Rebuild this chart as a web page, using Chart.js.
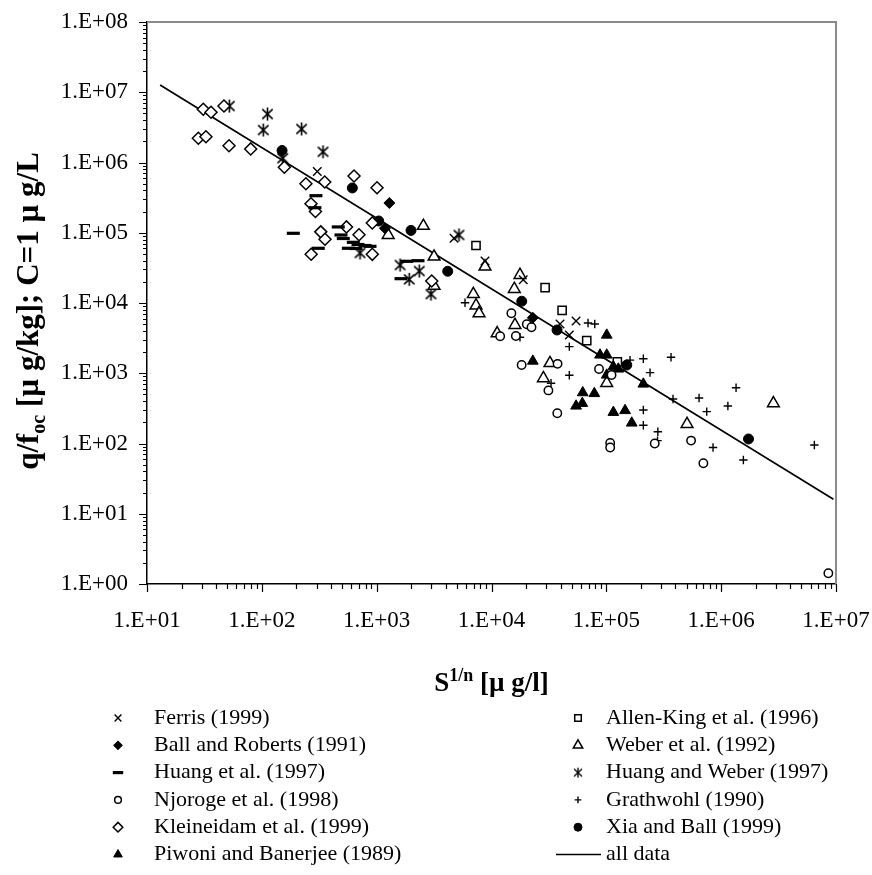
<!DOCTYPE html>
<html>
<head>
<meta charset="utf-8">
<script src="https://cdn.jsdelivr.net/npm/chart.js@4.4.1/dist/chart.umd.min.js"></script>
<style>
  html, body { margin: 0; padding: 0; background: #fff; }
  #wrap { width: 872px; height: 875px; position: relative; }
</style>
</head>
<body>
<div id="wrap"><canvas id="chart"></canvas></div>
<script>
/* ---------- data: S^1/n [ug/l] vs q/foc [ug/kg] ---------- */
const ferrisS = [304, 4720, 8780, 18900, 39500, 54500, 47600];
const ferrisQ = [7.45e5, 8.34e4, 3.96e4, 2.14e4, 5.02e3, 5.54e3, 3.50e3];

const ballS = [1290, 1180, 22900];
const ballQ = [2.65e5, 1.16e5, 6.16e3];

const huangS = [296, 290, 188, 310, 463, 489, 512, 626, 688, 792, 875, 567, 661, 1830, 2290, 1630];
const huangQ = [3.37e5, 2.27e5, 9.82e4, 6.01e4, 1.21e5, 9.29e4, 8.28e4, 7.31e4, 6.80e4, 6.58e4, 6.41e4, 6.01e4, 5.97e4, 3.92e4, 4.00e4, 2.22e4];

const njorogeS = [14900, 20300, 22300, 11900, 16300, 18300, 37600, 31300, 37400, 86400, 111000, 108000, 108000, 264000, 547000, 700000, 8.58e6];
const njorogeQ = [7.13e3, 4.99e3, 4.51e3, 3.36e3, 3.39e3, 1.31e3, 1.36e3, 570, 269, 1.15e3, 944, 102, 87.7, 100, 110, 52.3, 1.42];

const kleineidamS = [30.9, 36.1, 46.8, 28.0, 32.6, 51.8, 80.0, 157, 242, 353, 635, 1007, 916, 268, 293, 326, 355, 546, 702, 269, 916, 3017];
const kleineidamQ = [5.72e6, 5.19e6, 6.37e6, 2.21e6, 2.33e6, 1.73e6, 1.56e6, 8.55e5, 4.99e5, 5.28e5, 6.42e5, 4.38e5, 1.38e5, 2.59e5, 2.01e5, 1.03e5, 8.07e4, 1.21e5, 9.38e4, 4.95e4, 4.93e4, 2.06e4];

const piwoniS = [100800, 88100, 100800, 22900, 115100, 127200, 100800, 210000, 62300, 78600, 54500, 61800, 115100, 145600, 166400];
const piwoniQ = [3.50e3, 1.82e3, 1.82e3, 1.49e3, 1.24e3, 1.15e3, 944, 703, 529, 515, 342, 373, 278, 295, 196];

const allenKingS = [7330, 29300, 41200, 67500, 124700];
const allenKingQ = [6.58e4, 1.65e4, 7.87e3, 2.91e3, 1.45e3];

const weberS = [2550, 1260, 3160, 3160, 6950, 7330, 7790, 8780, 17700, 15800, 16000, 11200, 32300, 28300, 100800, 504700, 2.85e6];
const weberQ = [1.25e5, 9.29e4, 4.56e4, 1.75e4, 1.34e4, 9.21e3, 7.13e3, 3.29e4, 2.50e4, 1.58e4, 4.86e3, 3.70e3, 1.39e3, 848, 726, 189, 373];

const huangWeberS = [52.1, 112, 103, 222, 341, 152, 716, 1600, 2350, 1920, 2970, 5210];
const huangWeberQ = [6.37e6, 4.90e6, 2.90e6, 3.00e6, 1.42e6, 1.15e6, 5.15e4, 3.47e4, 2.85e4, 2.17e4, 1.34e4, 9.29e4];

const grathwohlS = [5880, 17700, 69300, 79300, 47600, 47600, 33000, 160800, 210000, 365900, 240200, 380900, 641900, 748800, 1.144e6, 1.348e6, 210000, 210000, 280900, 279200, 849800, 1.561e6, 6.48e6];
const grathwohlQ = [1.01e4, 3.25e3, 5.19e3, 5.02e3, 2.39e3, 935, 719, 1.54e3, 1.61e3, 1.69e3, 1.02e3, 430, 444, 284, 342, 623, 300, 182, 147, 110, 87.7, 58.2, 95.2];

const xiaS = [150, 614, 1042, 1991, 4157, 18340, 37220, 150600, 1.73e6];
const xiaQ = [1.48e6, 4.34e5, 1.47e5, 1.08e5, 2.83e4, 1.06e4, 4.13e3, 1.31e3, 116];

// regression line "all data"
const allDataS = [13, 9.5e6];
const allDataQ = [1.27e7, 16.1];

// axis decades (tick labels are 1.E+xx) and minor tick steps
const xTickExps = [1, 2, 3, 4, 5, 6, 7];
const yTickExps = [0, 1, 2, 3, 4, 5, 6, 7, 8];
const minorSteps = [2, 3, 4, 5, 6, 7, 8, 9];

const FONT = '"Liberation Serif", "Times New Roman", serif';

function pts(xs, ys) {
    return xs.map((x, i) => ({ x: x, y: ys[i] }));
}

// asterisk marker (X with a vertical bar)
function makeAsterisk(size, lw) {
    const c = document.createElement('canvas');
    c.width = size;
    c.height = size;
    const g = c.getContext('2d');
    const h = size / 2, a = h - 1;
    g.strokeStyle = '#000';
    g.lineWidth = lw;
    g.beginPath();
    g.moveTo(h, h - a); g.lineTo(h, h + a);
    g.moveTo(h - a * 0.8, h - a * 0.75); g.lineTo(h + a * 0.8, h + a * 0.75);
    g.moveTo(h + a * 0.8, h - a * 0.75); g.lineTo(h - a * 0.8, h + a * 0.75);
    g.stroke();
    return c;
}
const starBig = makeAsterisk(15, 1.6);
const starSmall = makeAsterisk(12, 1.3);

function series(label, xs, ys, style, radius, fill, bw, legendStyle) {
    return {
        label: label,
        data: pts(xs, ys),
        showLine: false,
        pointStyle: style,
        pointRadius: radius,
        pointHoverRadius: radius,
        pointBackgroundColor: fill,
        pointBorderColor: '#000',
        pointBorderWidth: bw,
        legendStyle: legendStyle || style
    };
}

const datasets = [
    // left legend column
    series('Ferris (1999)', ferrisS, ferrisQ, 'crossRot', 6, '#000', 1.4),
    series('Ball and Roberts (1991)', ballS, ballQ, 'rectRot', 5.5, '#000', 1),
    series('Huang et al. (1997)', huangS, huangQ, 'line', 6.5, '#000', 3.2),
    series('Njoroge et al. (1998)', njorogeS, njorogeQ, 'circle', 4.2, '#fff', 1.5),
    series('Kleineidam et al. (1999)', kleineidamS, kleineidamQ, 'rectRot', 6, '#fff', 1.5),
    series('Piwoni and Banerjee (1989)', piwoniS, piwoniQ, 'triangle', 6.2, '#000', 1),
    // right legend column
    series('Allen-King et al. (1996)', allenKingS, allenKingQ, 'rect', 5.8, '#fff', 1.5),
    series('Weber et al. (1992)', weberS, weberQ, 'triangle', 6.8, '#fff', 1.5),
    series('Huang and Weber (1997)', huangWeberS, huangWeberQ, starBig, 7, '#000', 1.6, starSmall),
    series('Grathwohl (1990)', grathwohlS, grathwohlQ, 'cross', 4.2, '#000', 1.4),
    series('Xia and Ball (1999)', xiaS, xiaQ, 'circle', 5, '#000', 1),
    {
        label: 'all data',
        data: pts(allDataS, allDataQ),
        showLine: true,
        borderColor: '#000',
        borderWidth: 1.6,
        pointRadius: 0,
        fill: false,
        legendStyle: 'lineSample'
    }
];

function logTicks(exps) {
    const out = [];
    exps.forEach((e, i) => {
        out.push({ value: Math.pow(10, e), major: true });
        if (i < exps.length - 1) {
            minorSteps.forEach(m => out.push({ value: m * Math.pow(10, e), major: false }));
        }
    });
    return out;
}

function sciLabel(v) {
    const e = Math.round(Math.log10(v));
    if (Math.abs(v - Math.pow(10, e)) > 1e-6 * v) return '';
    return '1.E' + (e < 0 ? '-' : '+') + String(Math.abs(e)).padStart(2, '0');
}

// text with sub/superscripts: parts = [text, size, dy]
function drawRich(ctx, parts, x, y) {
    let total = 0;
    parts.forEach(p => {
        ctx.font = 'bold ' + p[1] + 'px ' + FONT;
        total += ctx.measureText(p[0]).width;
    });
    let cx = x - total / 2;
    parts.forEach(p => {
        ctx.font = 'bold ' + p[1] + 'px ' + FONT;
        ctx.fillText(p[0], cx, y + p[2]);
        cx += ctx.measureText(p[0]).width;
    });
}

const decorations = {
    id: 'decorations',
    afterDraw(chart) {
        const ctx = chart.ctx;
        const xs = chart.scales.x, ys = chart.scales.y;
        const area = chart.chartArea;
        ctx.save();

        // tick marks outside the axes
        ctx.strokeStyle = '#000';
        ctx.lineWidth = 1.2;
        ctx.beginPath();
        xs.ticks.forEach(t => {
            const p = Math.round(xs.getPixelForValue(t.value)) + 0.5;
            ctx.moveTo(p, area.bottom);
            ctx.lineTo(p, area.bottom + (t.major ? 8 : 5));
        });
        ys.ticks.forEach(t => {
            const p = Math.round(ys.getPixelForValue(t.value)) + 0.5;
            ctx.moveTo(area.left, p);
            ctx.lineTo(area.left - (t.major ? 8 : 4), p);
        });
        ctx.stroke();

        // grey frame on top and right
        ctx.strokeStyle = '#8a8a8a';
        ctx.lineWidth = 2;
        ctx.beginPath();
        ctx.moveTo(area.left, area.top);
        ctx.lineTo(area.right, area.top);
        ctx.lineTo(area.right, area.bottom);
        ctx.stroke();

        // axis titles
        ctx.fillStyle = '#000';
        ctx.textBaseline = 'alphabetic';
        drawRich(ctx, [['S', 27, 0], ['1/n', 18, -10], [' [\u00b5 g/l]', 27, 0]], (area.left + area.right) / 2, 691);
        ctx.save();
        ctx.translate(38, 311);
        ctx.rotate(-Math.PI / 2);
        drawRich(ctx, [['q/f', 31, 0], ['oc', 20, 7], [' [\u00b5 g/kg]; C=1 \u00b5 g/L', 31, 0]], 0, 0);
        ctx.restore();

        // legend: two columns of six
        ctx.textBaseline = 'middle';
        ctx.textAlign = 'left';
        chart.data.datasets.forEach((ds, i) => {
            const col = i < 6 ? 0 : 1;
            const row = i % 6;
            const y = 718 + row * 27.3;
            const mx = col === 0 ? 118 : 578;
            const tx = col === 0 ? 154 : 606;
            if (ds.legendStyle === 'lineSample') {
                ctx.strokeStyle = '#000';
                ctx.lineWidth = 1.6;
                ctx.beginPath();
                ctx.moveTo(tx - 50, y);
                ctx.lineTo(tx - 5, y);
                ctx.stroke();
            } else {
                ctx.fillStyle = ds.pointBackgroundColor;
                ctx.strokeStyle = '#000';
                ctx.lineWidth = ds.pointBorderWidth;
                Chart.helpers.drawPoint(ctx, {
                    pointStyle: ds.legendStyle,
                    radius: ds.pointRadius * 0.8,
                    borderWidth: ds.pointBorderWidth,
                    rotation: 0
                }, mx, y);
            }
            ctx.fillStyle = '#000';
            ctx.font = '22px ' + FONT;
            ctx.fillText(ds.label, tx, y);
        });
        ctx.restore();
    }
};

new Chart(document.getElementById('chart'), {
    type: 'scatter',
    data: { datasets: datasets },
    options: {
        responsive: true,
        maintainAspectRatio: false,
        animation: false,
        events: [],
        layout: { padding: { top: 22, right: 36, left: 0, bottom: 0 } },
        plugins: {
            legend: { display: false },
            tooltip: { enabled: false }
        },
        scales: {
            x: {
                type: 'logarithmic',
                position: 'bottom',
                min: 10,
                max: 1e7,
                afterBuildTicks: s => { s.ticks = logTicks(xTickExps); },
                afterFit: s => { s.height = 291; s.paddingLeft = 0; s.paddingRight = 0; },
                ticks: {
                    autoSkip: false,
                    maxRotation: 0,
                    padding: 15,
                    color: '#000',
                    font: { family: FONT, size: 23 },
                    callback: v => sciLabel(v)
                },
                grid: { display: false, drawTicks: true, tickLength: 8 },
                border: { display: true, color: '#000', width: 1.5 }
            },
            y: {
                type: 'logarithmic',
                position: 'left',
                min: 1,
                max: 1e8,
                afterBuildTicks: s => { s.ticks = logTicks(yTickExps); },
                afterFit: s => { s.width = 147; s.paddingTop = 0; s.paddingBottom = 0; },
                ticks: {
                    autoSkip: false,
                    padding: 11,
                    color: '#000',
                    font: { family: FONT, size: 23 },
                    callback: v => sciLabel(v)
                },
                grid: { display: false, drawTicks: true, tickLength: 8 },
                border: { display: true, color: '#000', width: 1.5 }
            }
        }
    },
    plugins: [decorations]
});
</script>
</body>
</html>
